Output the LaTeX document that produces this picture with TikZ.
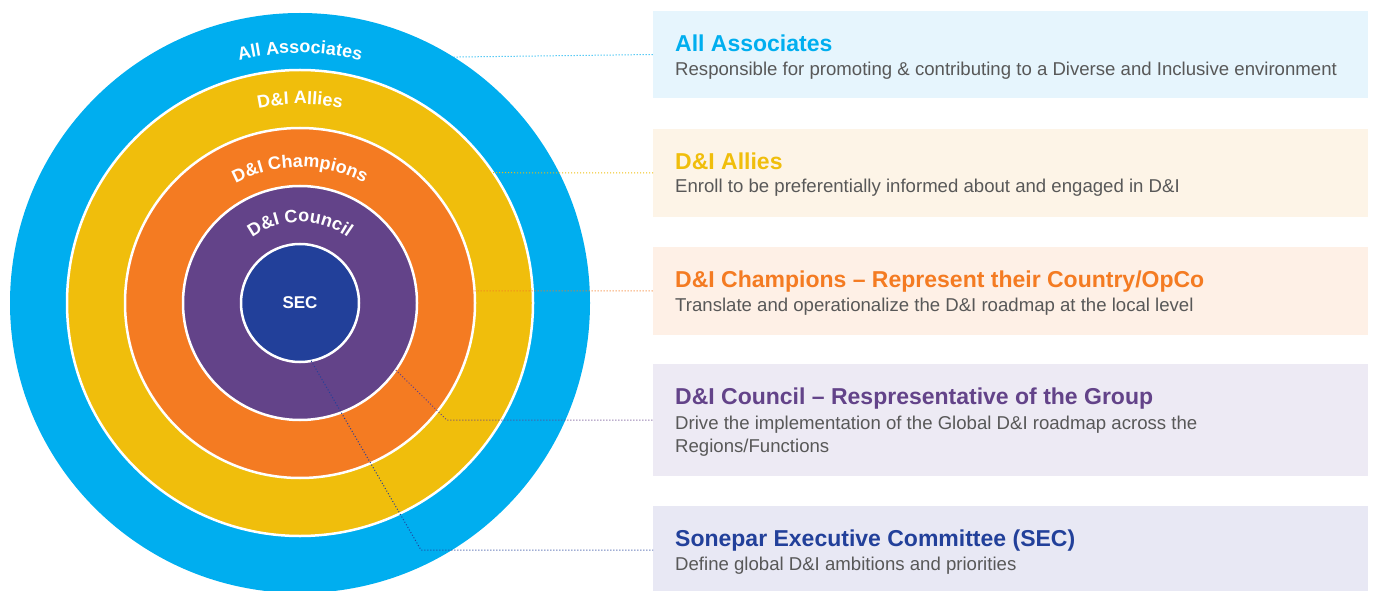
\documentclass[tikz,border=0pt]{standalone}
\usepackage{fontspec}
\setmainfont{Liberation Sans}
\definecolor{cblue}{HTML}{00AEEF}
\definecolor{cyellow}{HTML}{F0BE0C}
\definecolor{corange}{HTML}{F47B22}
\definecolor{cpurple}{HTML}{634389}
\definecolor{cnavy}{HTML}{22409A}
\definecolor{bblue}{HTML}{E6F5FD}
\definecolor{byellow}{HTML}{FDF4E7}
\definecolor{borange}{HTML}{FEF0E6}
\definecolor{bpurple}{HTML}{EDEAF4}
\definecolor{bnavy}{HTML}{E8E8F4}
\definecolor{dtext}{HTML}{585858}
\newlength\arcchw
\newlength\arctot
\newlength\arccum
\newcount\arcidx
\newcommand\ringfont{\bfseries\fontsize{18}{18}\selectfont}
\newcommand\arcmeasure[1]{\settowidth{\arcchw}{\pgfinterruptpicture\ringfont#1\endpgfinterruptpicture}}
% #1 radius (number, pt), #2 comma list of characters
\newcommand\arclabel[2]{%
  \global\arctot=0pt
  \foreach \ch in {#2}{\arcmeasure{\ch}\global\advance\arctot by \arcchw}%
  \pgfmathsetmacro\arcstart{90 + 0.5*\arctot/#1*180/pi}%
  \global\arccum=0pt
  \foreach \ch in {#2}{%
    \arcmeasure{\ch}%
    \pgfmathsetmacro\arcang{\arcstart - (\arccum + 0.5*\arcchw)/#1*180/pi}%
    \global\advance\arcidx by 1
    \node[ringtxt, rotate=\arcang-90] (arcch\the\arcidx) at ([shift={(\arcang:#1)}]C) {\ch};
    \global\advance\arccum by \arcchw
  }%
}
\begin{document}
\begin{tikzpicture}[x=1pt,y=1pt,
  ringdisc/.style={circle, draw=white, line width=2.5pt, inner sep=0pt, outer sep=0pt},
  infobox/.style={inner sep=0pt, outer sep=0pt, minimum width=715pt, anchor=north west},
  ttl/.style={anchor=base west, inner sep=0pt, font=\bfseries\fontsize{23}{26}\selectfont},
  dsc/.style={anchor=base west, inner sep=0pt, text=dtext, align=left, font=\fontsize{18.6}{23.5}\selectfont},
  conn/.style={dotted, line width=1pt},
  ringtxt/.style={anchor=base, inner sep=0pt, outer sep=0pt, text=white, font=\ringfont}
]
\useasboundingbox (0,0) rectangle (1373,590);
\clip (0,0) rectangle (1373,590);
\coordinate (C) at (300,287);
% rings
\node[circle, fill=cblue, inner sep=0pt, outer sep=0pt, minimum size=580pt] (ring1) at (C) {};
\node[ringdisc, fill=cyellow, minimum size=466pt] (ring2) at (C) {};
\node[ringdisc, fill=corange, minimum size=350pt] (ring3) at (C) {};
\node[ringdisc, fill=cpurple, minimum size=234pt] (ring4) at (C) {};
\node[ringdisc, fill=cnavy, minimum size=118pt, text=white, font=\bfseries\fontsize{17}{17}\selectfont] (sec) at (C) {SEC};
% ring labels
\arclabel{250}{A,l,l,\space,A,s,s,o,c,i,a,t,e,s}
\arclabel{199}{D,\&,I,\space,A,l,l,i,e,s}
\arclabel{136}{D,\&,I,\space,C,h,a,m,p,i,o,n,s}
\arclabel{81}{D,\&,I,\space,C,o,u,n,c,i,l}
% boxes
\node[infobox, fill=bblue, minimum height=87pt] (box1) at (653,579) {};
\node[infobox, fill=byellow, minimum height=88pt] (box2) at (653,461) {};
\node[infobox, fill=borange, minimum height=88pt] (box3) at (653,343) {};
\node[infobox, fill=bpurple, minimum height=112pt] (box4) at (653,226) {};
\node[infobox, fill=bnavy, minimum height=88pt] (box5) at (653,84) {};
% texts
\node[ttl, text=cblue] (t1) at (675,538.3) {All Associates};
\node[dsc] (d1) at (675,514) {Responsible for promoting \& contributing to a Diverse and Inclusive environment};
\node[ttl, text=cyellow] (t2) at (675,420.7) {D\&I Allies};
\node[dsc] (d2) at (675,397) {Enroll to be preferentially informed about and engaged in D\&I};
\node[ttl, text=corange] (t3) at (675,302.7) {D\&I Champions – Represent their Country/OpCo};
\node[dsc] (d3) at (675,278.3) {Translate and operationalize the D\&I roadmap at the local level};
\node[ttl, text=cpurple] (t4) at (675,186) {D\&I Council – Respresentative of the Group};
\node[dsc] (d4) at (675,137.3) {Drive the implementation of the Global D\&I roadmap across the\\Regions/Functions};
\node[ttl, text=cnavy] (t5) at (675,44) {Sonepar Executive Committee (SEC)};
\node[dsc] (d5) at (675,19.3) {Define global D\&I ambitions and priorities};
% connectors
\draw[conn, cblue] (ring1.58.5) -- (box1.west);
\draw[conn, cyellow] (ring2.34) -- (box2.west);
\draw[conn, corange] (ring3.4) -- (box3.west);
\coordinate (k4) at (446.7,170);
\draw[conn, cpurple] (ring4.-35) -- (k4) -- (box4.west);
\coordinate (k5) at (421,40);
\draw[conn, cnavy] (sec.-79) -- (k5) -- (box5.west);
\end{tikzpicture}
\end{document}
